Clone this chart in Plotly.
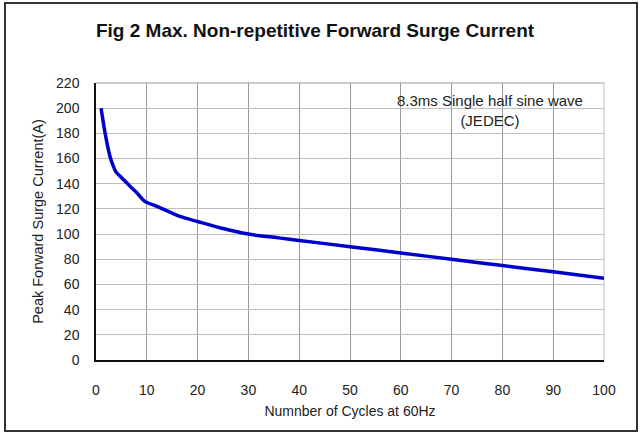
import plotly.graph_objects as go

# Data
cycles = [1, 1.8, 2.8, 4, 5, 6.7, 8, 9.6, 12, 16.5, 20, 24.4, 30, 36, 40, 50, 60, 70, 80, 90, 100]
current = [200, 180, 161, 149, 145, 138, 133, 126, 122, 114, 110, 105, 100, 97, 95, 90, 85, 80, 75, 70, 65]

x_ticks = [0, 10, 20, 30, 40, 50, 60, 70, 80, 90, 100]
y_ticks = [0, 20, 40, 60, 80, 100, 120, 140, 160, 180, 200, 220]

FONT = "Arial, 'Liberation Sans', sans-serif"

W, H = 640, 436
L, R, T, B = 96, 36, 83, 76
PW, PH = W - L - R, H - T - B


def px_x(px):
    return (px - L) / PW


def px_y(py):
    return (H - B - py) / PH


fig = go.Figure()
fig.add_trace(go.Scatter(
    x=cycles, y=current, mode="lines",
    line=dict(color="#0000CD", width=3.5, shape="spline", smoothing=0.6),
    hoverinfo="skip", showlegend=False,
))

fig.update_layout(
    width=W, height=H,
    margin=dict(l=L, r=R, t=T, b=B),
    paper_bgcolor="white", plot_bgcolor="white",
    font=dict(family=FONT, size=14, color="#222222"),
    title=dict(
        text="<b>Fig 2 Max. Non-repetitive Forward Surge Current</b>",
        font=dict(family=FONT, size=19, color="#111111"),
        xref="container", yref="container",
        x=315 / W, y=1 - 30 / H, xanchor="center", yanchor="middle",
    ),
    xaxis=dict(
        range=[0, 100], tickvals=x_ticks, ticktext=[str(v) for v in x_ticks],
        showgrid=True, gridcolor="#9a9a9a", gridwidth=1,
        showline=True, linecolor="#111111", linewidth=1.5,
        zeroline=False, ticks="", ticklabelstandoff=16,
        title=dict(text="Numnber of Cycles at 60Hz", font=dict(family=FONT, size=14), standoff=10),
    ),
    yaxis=dict(
        range=[0, 220], tickvals=y_ticks, ticktext=[str(v) for v in y_ticks],
        showgrid=True, gridcolor="#bdbdbd", gridwidth=1,
        showline=True, linecolor="#111111", linewidth=1.5,
        zeroline=False, ticks="", ticklabelstandoff=12,
        title=dict(text="Peak Forward Surge Current(A)", font=dict(family=FONT, size=14.5), standoff=9),
    ),
    shapes=[
        dict(type="rect", xref="paper", yref="paper",
             x0=px_x(382), x1=px_x(603), y0=px_y(123), y1=px_y(84),
             fillcolor="white", line=dict(width=0), layer="between"),
        dict(type="line", xref="paper", yref="paper", x0=1, x1=1, y0=0, y1=1,
             line=dict(color="#bdbdbd", width=1), layer="between"),
        dict(type="line", xref="paper", yref="paper", x0=0, x1=1, y0=1, y1=1,
             line=dict(color="#9a9a9a", width=1), layer="between"),
        dict(type="rect", xref="paper", yref="paper",
             x0=px_x(5), x1=px_x(637), y0=px_y(431), y1=px_y(3),
             fillcolor="rgba(0,0,0,0)", line=dict(color="#333333", width=2), layer="above"),
    ],
    annotations=[
        dict(text="8.3ms Single half sine wave<br>(JEDEC)", xref="paper", yref="paper",
             x=px_x(490), y=px_y(110), xanchor="center", yanchor="middle",
             showarrow=False, font=dict(family=FONT, size=15, color="#222222")),
    ],
)

fig.write_html("out.html", config={"displayModeBar": False},
               post_script="document.body.style.margin='0';")
